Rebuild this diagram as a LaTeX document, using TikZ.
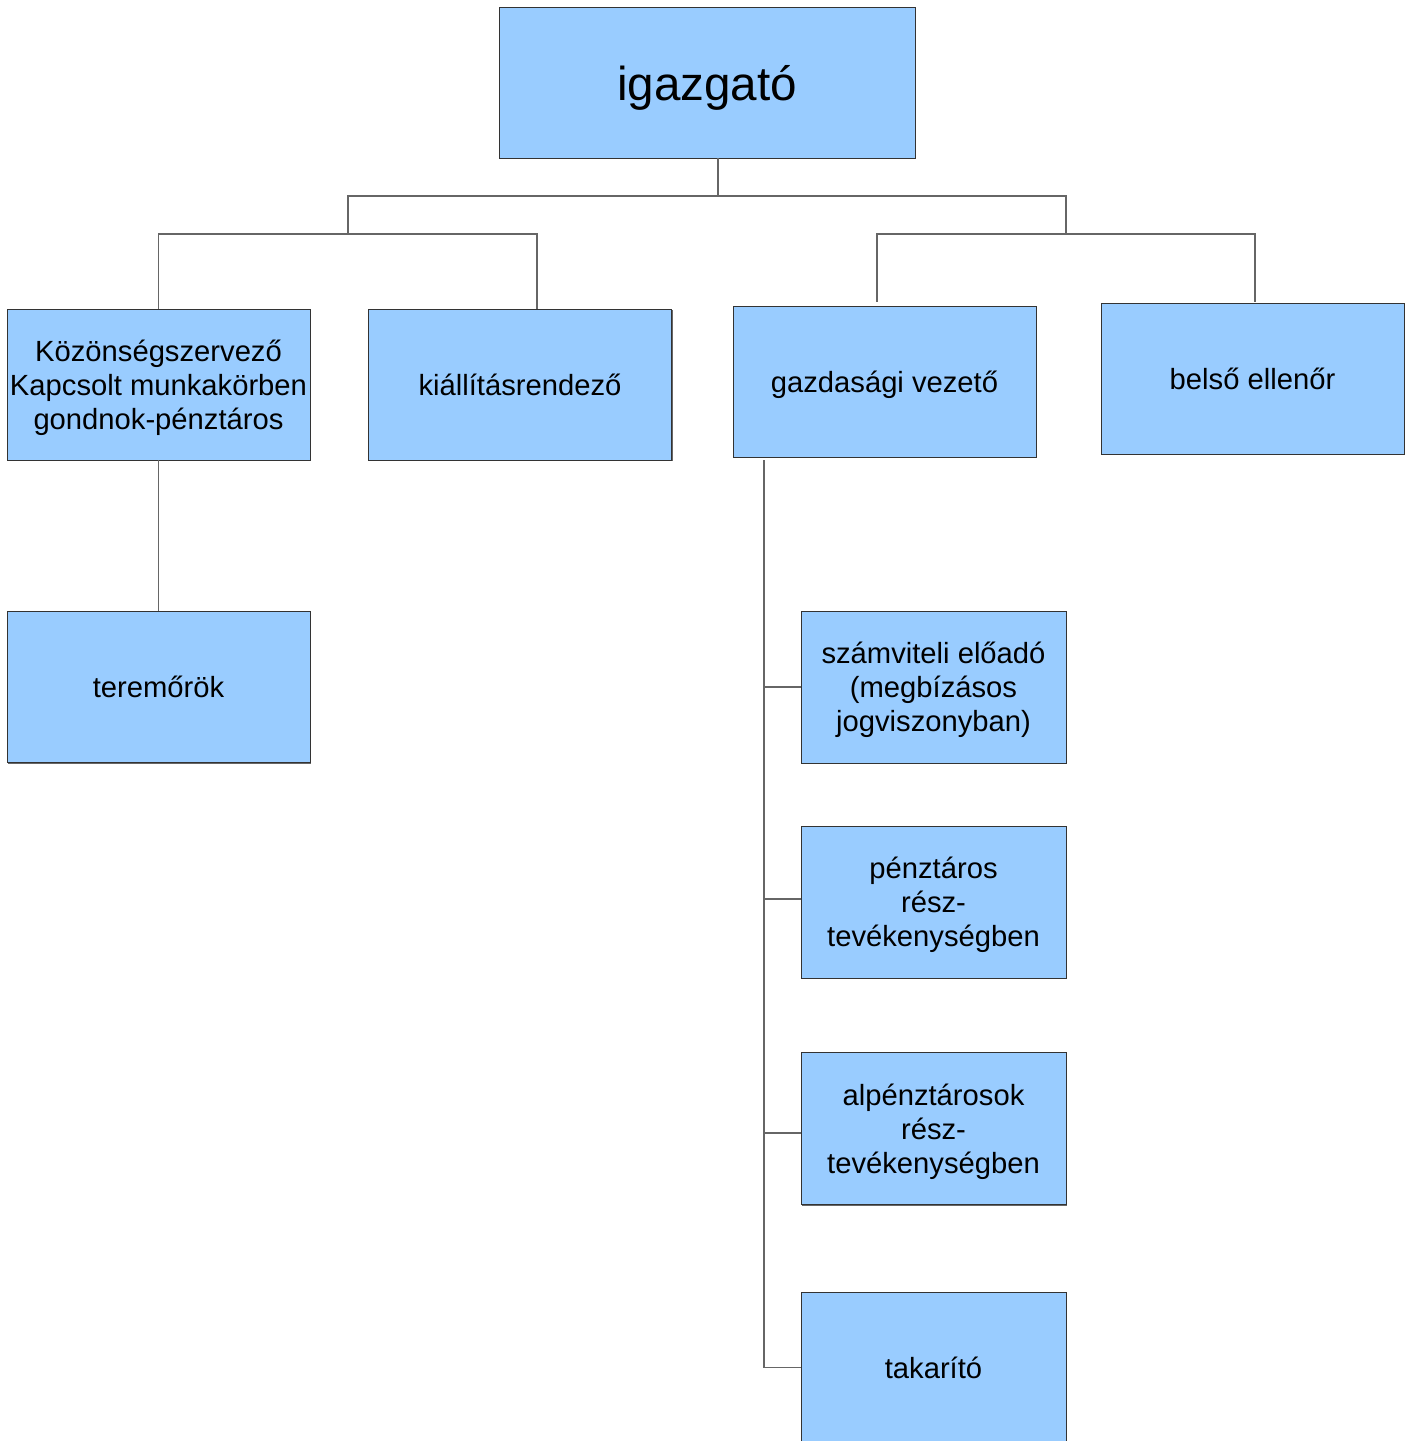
\documentclass[tikz,border=0pt]{standalone}
\usepackage{fontspec}
\setmainfont{Liberation Sans}
\usetikzlibrary{shadows}
\definecolor{boxblue}{HTML}{99CCFF}

\begin{document}
\begin{tikzpicture}[x=0.5pt,y=-0.5pt,
	unit/.style={draw=black!80,fill=boxblue,minimum width=151.5pt,minimum height=75.5pt,
		inner sep=0pt,align=center,text depth=0pt,font=\fontsize{14.6}{17}\selectfont,
		drop shadow={shadow xshift=0.5pt,shadow yshift=-0.5pt,fill=black!60,opacity=1}},
	sub/.style={unit,minimum width=132.5pt,minimum height=76pt},
	link/.style={draw=black!60,line width=0.6pt}
	]
	\path[use as bounding box,clip] (0,0) rectangle (1412,1441);
	
	\node[unit,minimum width=208pt,font=\fontsize{23.8}{28}\selectfont] (igazgato) at (707,82.5) {igazgató};
	\node[unit] (kozon) at (158.5,384.5) {Közönségszervező\\Kapcsolt munkakörben\\gondnok-pénztáros};
	\node[unit] (kiall) at (520,384.5) {kiállításrendező};
	\node[unit] (gazd) at (884.5,381.5) {gazdasági vezető};
	\node[unit] (belso) at (1252.5,378.5) {belső ellenőr};
	\node[unit] (terem) at (158.5,687) {teremőrök};
	\node[sub] (szamv) at (933.5,687) {számviteli előadó\\(megbízásos\\jogviszonyban)};
	\node[sub] (penzt) at (933.5,902) {pénztáros\\rész-\\tevékenységben};
	\node[sub] (alpenz) at (933.5,1128.5) {alpénztárosok\\rész-\\tevékenységben};
	\node[sub,minimum height=75.5pt] (takar) at (933.5,1367.5) {takarító};
	
	\coordinate (top) at (718,196);
	\coordinate (left) at (348,234);
	\coordinate (right) at (1066,234);
	\coordinate (spine) at (764,460);
	
	\draw[link] (igazgato.south -| top) -- (top);
	\draw[link] (left) |- (top) -| (right);
	\draw[link] (kozon.north) |- (left) -| ([xshift=8.5pt]kiall.north);
	\draw[link] ([xshift=-3.75pt,yshift=2pt]gazd.north) |- (right) -| ([xshift=1.25pt,yshift=0.5pt]belso.north);
	\draw[link] (kozon.south) -- (terem.north);
	\draw[link] (spine) |- (szamv.west) (spine) |- ([yshift=1.5pt]penzt.west)
		(spine) |- ([yshift=-2.25pt]alpenz.west) (spine) |- (takar.west);
	
\end{tikzpicture}
\end{document}
